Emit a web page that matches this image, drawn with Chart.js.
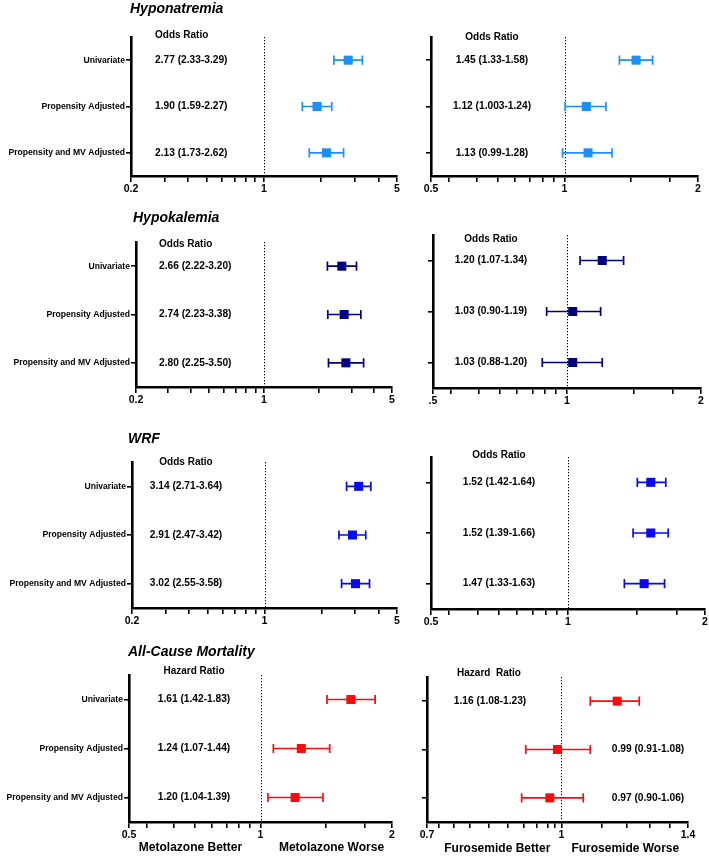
<!DOCTYPE html>
<html>
<head>
<meta charset="utf-8">
<script src="https://cdn.jsdelivr.net/npm/chart.js@4.4.1/dist/chart.umd.min.js"></script>
<style>
  html, body { margin: 0; padding: 0; background: #fff; }
  body { width: 709px; height: 858px; overflow: hidden; position: relative; }
  canvas { position: absolute; }
</style>
</head>
<body>
<canvas id="p1"></canvas><canvas id="p2"></canvas>
<canvas id="p3"></canvas><canvas id="p4"></canvas>
<canvas id="p5"></canvas><canvas id="p6"></canvas>
<canvas id="p7"></canvas><canvas id="p8"></canvas>
<script>
// ---------------- DATA ----------------
const rowLabels = ["Univariate", "Propensity Adjusted", "Propensity and MV Adjusted"];

// Hyponatremia
const hypoNaMetOR   = [2.77, 1.90, 2.13];
const hypoNaMetLo   = [2.33, 1.59, 1.73];
const hypoNaMetHi   = [3.29, 2.27, 2.62];
const hypoNaMetText = ["2.77 (2.33-3.29)", "1.90 (1.59-2.27)", "2.13 (1.73-2.62)"];
const hypoNaFurOR   = [1.45, 1.12, 1.13];
const hypoNaFurLo   = [1.33, 1.003, 0.99];
const hypoNaFurHi   = [1.58, 1.24, 1.28];
const hypoNaFurText = ["1.45 (1.33-1.58)", "1.12 (1.003-1.24)", "1.13 (0.99-1.28)"];

// Hypokalemia
const hypoKMetOR   = [2.66, 2.74, 2.80];
const hypoKMetLo   = [2.22, 2.23, 2.25];
const hypoKMetHi   = [3.20, 3.38, 3.50];
const hypoKMetText = ["2.66 (2.22-3.20)", "2.74 (2.23-3.38)", "2.80 (2.25-3.50)"];
const hypoKFurOR   = [1.20, 1.03, 1.03];
const hypoKFurLo   = [1.07, 0.90, 0.88];
const hypoKFurHi   = [1.34, 1.19, 1.20];
const hypoKFurText = ["1.20 (1.07-1.34)", "1.03 (0.90-1.19)", "1.03 (0.88-1.20)"];

// WRF
const wrfMetOR   = [3.14, 2.91, 3.02];
const wrfMetLo   = [2.71, 2.47, 2.55];
const wrfMetHi   = [3.64, 3.42, 3.58];
const wrfMetText = ["3.14 (2.71-3.64)", "2.91 (2.47-3.42)", "3.02 (2.55-3.58)"];
const wrfFurOR   = [1.52, 1.52, 1.47];
const wrfFurLo   = [1.42, 1.39, 1.33];
const wrfFurHi   = [1.64, 1.66, 1.63];
const wrfFurText = ["1.52 (1.42-1.64)", "1.52 (1.39-1.66)", "1.47 (1.33-1.63)"];

// All-cause mortality
const mortMetHR   = [1.61, 1.24, 1.20];
const mortMetLo   = [1.42, 1.07, 1.04];
const mortMetHi   = [1.83, 1.44, 1.39];
const mortMetText = ["1.61 (1.42-1.83)", "1.24 (1.07-1.44)", "1.20 (1.04-1.39)"];
const mortFurHR   = [1.16, 0.99, 0.97];
const mortFurLo   = [1.08, 0.91, 0.90];
const mortFurHi   = [1.23, 1.08, 1.06];
const mortFurText = ["1.16 (1.08-1.23)", "0.99 (0.91-1.08)", "0.97 (0.90-1.06)"];

// Axis ticks (values where tick marks are, and the labelled ones)
const ticks02to5      = [0.2, 0.3, 0.4, 0.5, 0.6, 0.7, 0.8, 0.9, 1, 2, 3, 4, 5];
const ticks02to5Lab   = [0.2, 1, 5];
const ticks02to5Txt   = ["0.2", "1", "5"];
const ticks05to2      = [0.5, 0.548, 0.633, 0.706, 0.772, 0.836, 0.892, 0.946, 1, 1.414, 1.73, 2];
const ticks05to2Lab   = [0.5, 1, 2];
const ticks05to2Txt   = ["0.5", "1", "2"];
const ticks05to2TxtB  = [".5", "1", "2"];
const ticks07to14     = [0.7, 0.723, 0.751, 0.785, 0.824, 0.868, 0.905, 0.937, 0.965, 0.982, 1, 1.113, 1.19, 1.265, 1.334, 1.4];
const ticks07to14Lab  = [0.7, 1, 1.4];
const ticks07to14Txt  = ["0.7", "1", "1.4"];

const panelTitles = ["Hyponatremia", "Hypokalemia", "WRF", "All-Cause Mortality"];
const headerOdds = "Odds Ratio";
const headerHazardL = "Hazard Ratio";
const headerHazardR = "Hazard  Ratio";
const bottomLabelsMet = ["Metolazone Better", "Metolazone Worse"];
const bottomLabelsFur = ["Furosemide Better", "Furosemide Worse"];

// ---------------- STYLE ----------------
const FONT = "'Liberation Sans', Arial, Helvetica, sans-serif";
const COL_NA = "#1E8EFF";
const COL_K = "#00007F";
const COL_WRF = "#0A0AF0";
const COL_MORT = "#FF0A0A";

function forestPlugin(p) {
  return {
    id: 'forest_' + p.id,
    beforeDatasetsDraw(chart) {
      const {ctx, chartArea, scales} = chart;
      const x = scales.x, y = scales.y;
      ctx.save();
      // dotted reference line at 1
      const x1 = Math.round(x.getPixelForValue(1)) + 0.5;
      ctx.strokeStyle = '#000';
      ctx.lineWidth = 1;
      ctx.setLineDash([1.3, 1.7]);
      ctx.beginPath();
      ctx.moveTo(x1, chartArea.top);
      ctx.lineTo(x1, chartArea.bottom);
      ctx.stroke();
      ctx.setLineDash([]);
      // error bars
      ctx.strokeStyle = p.color;
      ctx.lineWidth = 1.7;
      p.lo.forEach((lo, i) => {
        const yy = y.getPixelForValue(i + 1);
        const xl = x.getPixelForValue(lo);
        const xh = x.getPixelForValue(p.hi[i]);
        ctx.beginPath();
        ctx.moveTo(xl, yy); ctx.lineTo(xh, yy);
        ctx.moveTo(xl, yy - 4.6); ctx.lineTo(xl, yy + 4.6);
        ctx.moveTo(xh, yy - 4.6); ctx.lineTo(xh, yy + 4.6);
        ctx.stroke();
      });
      ctx.restore();
    },
    afterDraw(chart) {
      const {ctx, scales} = chart;
      const y = scales.y, x = scales.x;
      ctx.save();
      ctx.fillStyle = '#000';
      ctx.textBaseline = 'middle';
      // title
      if (p.title) {
        ctx.font = "italic bold 14px " + FONT;
        ctx.textAlign = 'left';
        ctx.fillText(p.title, p.titleX - p.cx, p.titleY - p.cy);
      }
      // header
      ctx.font = "bold 10px " + FONT;
      ctx.textAlign = p.align;
      ctx.fillText(p.header, p.headerX - p.cx, p.headerY - p.cy);
      // values
      ctx.font = "bold 10.2px " + FONT;
      p.text.forEach((t, i) => {
        const yy = y.getPixelForValue(i + 1);
        const tx = (p.textXs ? p.textXs[i] : p.textX) - p.cx;
        ctx.fillText(t, tx, yy);
      });
      // bottom labels
      if (p.bottom) {
        ctx.font = "bold 12px " + FONT;
        ctx.textAlign = 'center';
        const x1 = x.getPixelForValue(1);
        ctx.fillText(p.bottom[0], x1 - p.bottomDx[0], p.bottomY - p.cy);
        ctx.fillText(p.bottom[1], x1 + p.bottomDx[1], p.bottomY - p.cy);
      }
      ctx.restore();
    }
  };
}

function makePanel(p) {
  const cv = document.getElementById(p.id);
  cv.width = p.cw; cv.height = p.ch;
  cv.style.left = p.cx + 'px'; cv.style.top = p.cy + 'px';
  cv.style.width = p.cw + 'px'; cv.style.height = p.ch + 'px';
  const padTop = p.T - p.cy;
  const yW = p.L - p.cx;
  const padRight = p.cx + p.cw - p.R;
  const xH = p.cy + p.ch - p.B;
  new Chart(cv, {
    type: 'scatter',
    data: {
      datasets: [{
        data: p.est.map((v, i) => ({x: v, y: i + 1})),
        pointStyle: 'rect',
        pointRadius: 6.4,
        pointHoverRadius: 6.4,
        pointBorderWidth: 0,
        backgroundColor: p.color,
        borderColor: p.color
      }]
    },
    options: {
      responsive: false,
      animation: false,
      events: [],
      devicePixelRatio: 1,
      layout: { padding: { left: 0, top: padTop, right: padRight, bottom: 0 } },
      plugins: { legend: { display: false }, tooltip: { enabled: false }, title: { display: false } },
      scales: {
        x: {
          type: 'logarithmic',
          min: p.min, max: p.max,
          afterFit: s => { s.height = xH; },
          afterBuildTicks: s => { s.ticks = p.ticks.map(v => ({value: v})); },
          ticks: {
            autoSkip: false, maxRotation: 0, minRotation: 0, padding: 1,
            color: '#000',
            font: { family: FONT, size: 10.5, weight: 'bold' },
            callback: (v) => {
              const k = p.tickLab.findIndex(t => Math.abs(t - v) < 1e-9);
              return k >= 0 ? p.tickTxt[k] : '';
            }
          },
          grid: { drawOnChartArea: false, drawTicks: true, color: '#000', tickLength: 6, lineWidth: 1.6 },
          border: { display: true, color: '#000', width: 2.6 }
        },
        y: {
          type: 'linear',
          min: 0.5, max: 3.5, reverse: true,
          afterFit: s => { s.width = yW; },
          afterBuildTicks: s => { s.ticks = [1, 2, 3].map(v => ({value: v})); },
          ticks: {
            autoSkip: false, padding: 1, color: '#000',
            font: { family: FONT, size: 8.6, weight: 'bold' },
            callback: (v) => p.showLabels ? rowLabels[Math.round(v) - 1] : ''
          },
          grid: { drawOnChartArea: false, drawTicks: true, color: '#000', tickLength: 5, lineWidth: 1.6 },
          border: { display: true, color: '#000', width: 2.6 }
        }
      }
    },
    plugins: [forestPlugin(p)]
  });
}

const panels = [
  { id: 'p1', cx: 0, cy: 0, cw: 420, ch: 200, L: 131, R: 397, T: 37, B: 176,
    min: 0.2, max: 5, ticks: ticks02to5, tickLab: ticks02to5Lab, tickTxt: ticks02to5Txt,
    est: hypoNaMetOR, lo: hypoNaMetLo, hi: hypoNaMetHi, text: hypoNaMetText, color: COL_NA, showLabels: true,
    title: panelTitles[0], titleX: 130, titleY: 9,
    header: headerOdds, align: 'left', headerX: 155, headerY: 35, textX: 155 },
  { id: 'p2', cx: 410, cy: 0, cw: 310, ch: 200, L: 431, R: 698, T: 37, B: 176,
    min: 0.5, max: 2, ticks: ticks05to2, tickLab: ticks05to2Lab, tickTxt: ticks05to2Txt,
    est: hypoNaFurOR, lo: hypoNaFurLo, hi: hypoNaFurHi, text: hypoNaFurText, color: COL_NA, showLabels: false,
    header: headerOdds, align: 'center', headerX: 492, headerY: 37, textX: 492 },
  { id: 'p3', cx: 0, cy: 200, cw: 420, ch: 220, L: 136, R: 392, T: 242, B: 387,
    min: 0.2, max: 5, ticks: ticks02to5, tickLab: ticks02to5Lab, tickTxt: ticks02to5Txt,
    est: hypoKMetOR, lo: hypoKMetLo, hi: hypoKMetHi, text: hypoKMetText, color: COL_K, showLabels: true,
    title: panelTitles[1], titleX: 133, titleY: 218,
    header: headerOdds, align: 'left', headerX: 159, headerY: 244, textX: 159 },
  { id: 'p4', cx: 410, cy: 200, cw: 310, ch: 220, L: 433, R: 701, T: 235, B: 388,
    min: 0.5, max: 2, ticks: ticks05to2, tickLab: ticks05to2Lab, tickTxt: ticks05to2TxtB,
    est: hypoKFurOR, lo: hypoKFurLo, hi: hypoKFurHi, text: hypoKFurText, color: COL_K, showLabels: false,
    header: headerOdds, align: 'center', headerX: 491, headerY: 239, textX: 491 },
  { id: 'p5', cx: 0, cy: 420, cw: 420, ch: 210, L: 132, R: 397, T: 462, B: 608,
    min: 0.2, max: 5, ticks: ticks02to5, tickLab: ticks02to5Lab, tickTxt: ticks02to5Txt,
    est: wrfMetOR, lo: wrfMetLo, hi: wrfMetHi, text: wrfMetText, color: COL_WRF, showLabels: true,
    title: panelTitles[2], titleX: 128, titleY: 439,
    header: headerOdds, align: 'center', headerX: 186, headerY: 462, textX: 186 },
  { id: 'p6', cx: 410, cy: 420, cw: 310, ch: 210, L: 431, R: 705, T: 457, B: 609,
    min: 0.5, max: 2, ticks: ticks05to2, tickLab: ticks05to2Lab, tickTxt: ticks05to2Txt,
    est: wrfFurOR, lo: wrfFurLo, hi: wrfFurHi, text: wrfFurText, color: COL_WRF, showLabels: false,
    header: headerOdds, align: 'center', headerX: 499, headerY: 455, textX: 499 },
  { id: 'p7', cx: 0, cy: 630, cw: 420, ch: 228, L: 129, R: 392, T: 675, B: 822,
    min: 0.5, max: 2, ticks: ticks05to2, tickLab: ticks05to2Lab, tickTxt: ticks05to2Txt,
    est: mortMetHR, lo: mortMetLo, hi: mortMetHi, text: mortMetText, color: COL_MORT, showLabels: true,
    title: panelTitles[3], titleX: 128, titleY: 652,
    header: headerHazardL, align: 'center', headerX: 194, headerY: 671, textX: 194,
    bottom: bottomLabelsMet, bottomDx: [70, 71], bottomY: 848 },
  { id: 'p8', cx: 410, cy: 630, cw: 310, ch: 228, L: 427, R: 688, T: 677, B: 822,
    min: 0.7, max: 1.4, ticks: ticks07to14, tickLab: ticks07to14Lab, tickTxt: ticks07to14Txt,
    est: mortFurHR, lo: mortFurLo, hi: mortFurHi, text: mortFurText, color: COL_MORT, showLabels: false,
    header: headerHazardR, align: 'center', headerX: 489, headerY: 673, textXs: [490, 648, 648],
    bottom: bottomLabelsFur, bottomDx: [64, 64], bottomY: 849 }
];

panels.forEach(makePanel);
</script>
</body>
</html>
